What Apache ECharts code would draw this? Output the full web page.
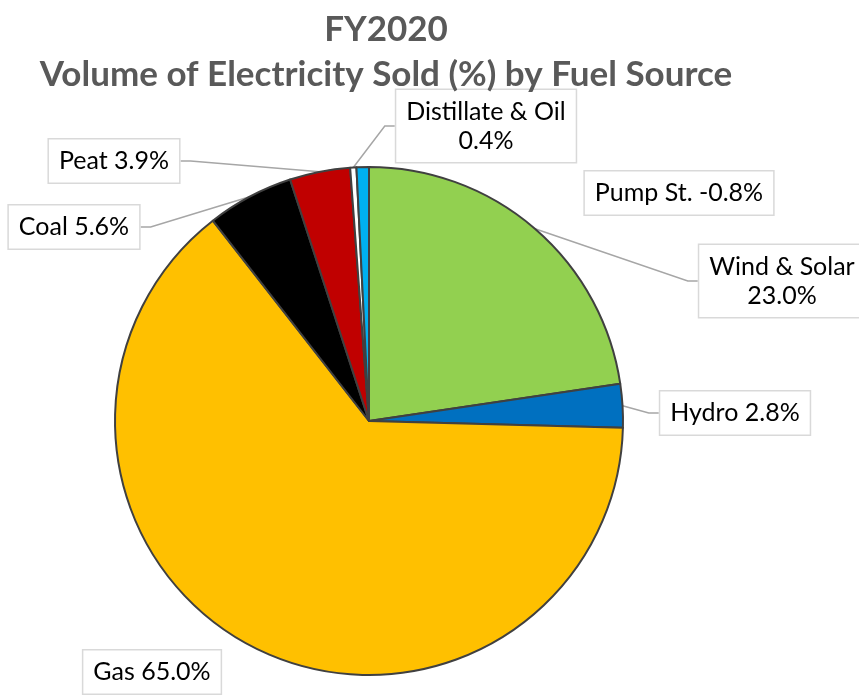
<!DOCTYPE html>
<html>
<head>
<meta charset="UTF-8">
<title>FY2020 Volume of Electricity Sold</title>
<script src="https://cdn.jsdelivr.net/npm/echarts@6/dist/echarts.min.js"></script>
<style>
  html, body { margin: 0; padding: 0; background: #fff; }
  #chart { width: 859px; height: 696px; }
</style>
</head>
<body>
<div id="chart"></div>
<script>
// fuel sources, clockwise from 12 o'clock
var sources = ['Wind & Solar', 'Hydro', 'Gas', 'Coal', 'Peat', 'Distillate & Oil', 'Pump St.'];
var shares = [23.0, 2.8, 65.0, 5.6, 3.9, 0.4, -0.8];
var colors = ['#92D050', '#0070C0', '#FFC000', '#000000', '#C00000', '#FFFFFF', '#00B0F0'];
// which labels wrap onto two lines
var twoLine = [true, false, false, false, false, true, false];
// labels that sit without a leader line
var noLine = ['Gas', 'Pump St.'];
// label box centres (px), placed by hand like the original
var labelPos = [[782, 281], [735, 413], [152, 672], [74, 227], [114, 161], [486, 126], [679, 193]];

var chart = echarts.init(document.getElementById('chart'));

var data = sources.map(function (name, i) {
  return {
    name: name,
    value: Math.abs(shares[i]), // negative pump storage drawn by its size
    itemStyle: { color: colors[i] },
    labelLine: { show: noLine.indexOf(name) < 0 }
  };
});

var option = {
  animation: false,
  title: {
    text: 'FY2020\nVolume of Electricity Sold (%) by Fuel Source',
    left: 381,
    top: 2,
    textAlign: 'center',
    textStyle: {
      fontFamily: 'Lato',
      fontSize: 35,
      fontWeight: 'bold',
      color: '#595959',
      lineHeight: 45
    }
  },
  series: [{
    type: 'pie',
    center: [369, 421],
    radius: 254,
    startAngle: 90,
    clockwise: true,
    avoidLabelOverlap: false,
    data: data,
    itemStyle: {
      borderColor: '#404040',
      borderWidth: 2
    },
    label: {
      show: true,
      position: 'outside',
      formatter: function (p) {
        var v = shares[p.dataIndex].toFixed(1) + '%';
        return twoLine[p.dataIndex] ? p.name + '\n' + v : p.name + ' ' + v;
      },
      fontFamily: 'Lato',
      fontSize: 25,
      lineHeight: 29,
      color: '#000',
      align: 'center',
      backgroundColor: '#fff',
      borderColor: '#d9d9d9',
      borderWidth: 1.5,
      padding: [7, 10]
    },
    labelLine: {
      show: true,
      length: 10,
      length2: 10,
      lineStyle: { color: '#a6a6a6', width: 1.5 }
    },
    labelLayout: function (params) {
      var p = labelPos[params.dataIndex];
      return { x: p[0], y: p[1], align: 'center', verticalAlign: 'middle' };
    },
    emphasis: { disabled: true }
  }]
};

chart.setOption(option);
</script>
</body>
</html>
